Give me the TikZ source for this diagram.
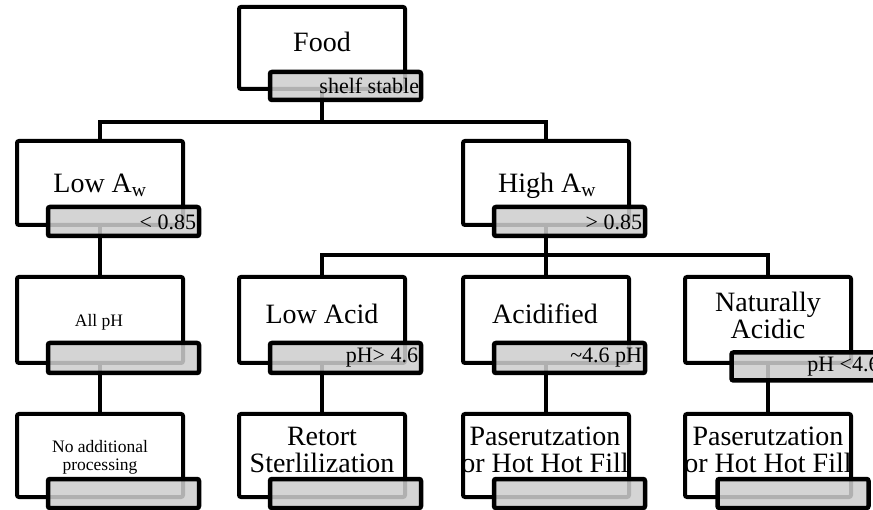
\documentclass[tikz,border=0pt]{standalone}
\usepackage{fontspec}
\setmainfont{Liberation Serif}
\definecolor{tagfill}{RGB}{205,205,205}
\tikzset{
  mainbox/.style={draw, line width=4pt, rounded corners=2pt, minimum width=166pt, fill=white, inner sep=0pt},
  tagbox/.style={draw, line width=4.5pt, rounded corners=2pt, minimum width=151pt, minimum height=29pt, fill=tagfill, fill opacity=0.86, inner sep=0pt},
  conn/.style={line width=4pt},
  bigtxt/.style={font=\fontsize{28}{27}\selectfont, align=center, inner sep=0pt},
  smalltxt/.style={font=\fontsize{17.5}{18}\selectfont, align=center, inner sep=0pt},
  tagtxt/.style={font=\fontsize{22}{24}\selectfont, inner sep=0pt, anchor=east},
}
\begin{document}
\begin{tikzpicture}[x=1pt, y=-1pt]
\path[use as bounding box] (0,0) rectangle (873,510);
\clip (0,0) rectangle (873,510);

% main boxes
\node[mainbox, minimum height=82pt] (food) at (322,48) {};
\node[mainbox, minimum height=84pt] (lowaw) at (100,183) {};
\node[mainbox, minimum height=84pt] (highaw) at (546,183) {};
\node[mainbox, minimum height=86pt] (allph) at (100,320) {};
\node[mainbox, minimum height=86pt] (lowacid) at (322,320) {};
\node[mainbox, minimum height=86pt] (acid) at (546,320) {};
\node[mainbox, minimum height=86pt] (natural) at (768,320) {};
\node[mainbox, minimum height=83pt] (noproc) at (100,455.5) {};
\node[mainbox, minimum height=83pt] (retort) at (322,455.5) {};
\node[mainbox, minimum height=83pt] (pastA) at (546,455.5) {};
\node[mainbox, minimum height=83pt] (pastN) at (768,455.5) {};

% labels
\node[bigtxt, anchor=base] (foodT) at (322,52) {Food};
\node[bigtxt, anchor=base] (lowawT) at (100,193) {Low A\textsubscript{w}};
\node[bigtxt, anchor=base] (highawT) at (547,193) {High A\textsubscript{w}};
\node[smalltxt, anchor=base] (allphT) at (99,327) {All pH};
\node[bigtxt, anchor=base] (lowacidT) at (322,324) {Low Acid};
\node[bigtxt, anchor=base] (acidT) at (545,324) {Acidified};
\node[bigtxt] (naturalT) at (768,315) {Naturally\\Acidic};
\node[smalltxt] (noprocT) at (100,457.5) {No additional\\processing};
\node[bigtxt] (retortT) at (322,449.5) {Retort\\Sterlilization};
\node[bigtxt] (pastAT) at (545,449.5) {Paserutzation\\or Hot Hot Fill};
\node[bigtxt] (pastNT) at (768,449.5) {Paserutzation\\or Hot Hot Fill};

% connectors
\coordinate (bus1) at (322,122);
\coordinate (bus2) at (546,255);
\draw[conn] (food.south) -- (bus1) -| (lowaw.north);
\draw[conn] (bus1) -| (highaw.north);
\draw[conn] (lowaw.south) -- (allph.north);
\draw[conn] (highaw.south) -- (bus2) -| (lowacid.north);
\draw[conn] (bus2) -| (natural.north);
\draw[conn] (bus2) -- (acid.north);
\draw[conn] (allph.south) -- (noproc.north);
\draw[conn] (lowacid.south) -- (retort.north);
\draw[conn] (acid.south) -- (pastA.north);
\draw[conn] (natural.south) -- (pastN.north);

% tags
\node[tagbox, minimum height=28pt] (foodtag) at (345.5,86) {};
\node[tagbox] (lowawtag) at (123.5,221.5) {};
\node[tagbox] (highawtag) at (569.5,221.5) {};
\node[tagbox, minimum height=30pt] (allphtag) at (123.5,358) {};
\node[tagbox, minimum height=30pt] (lowacidtag) at (345.5,358) {};
\node[tagbox, minimum height=30pt] (acidtag) at (569.5,358) {};
\node[tagbox, minimum height=28pt] (naturaltag) at (807,366.5) {};
\node[tagbox] (noproctag) at (123.5,493.5) {};
\node[tagbox] (retorttag) at (345.5,493.5) {};
\node[tagbox] (pastAtag) at (569.5,493.5) {};
\node[tagbox] (pastNtag) at (793,493.5) {};

% tag texts
\node[tagtxt] (foodtagT) at ([xshift=-4pt]foodtag.east) {shelf stable};
\node[tagtxt] (lowawtagT) at ([xshift=-5pt,yshift=-1pt]lowawtag.east) {< 0.85};
\node[tagtxt] (highawtagT) at ([xshift=-5pt,yshift=-1pt]highawtag.east) {> 0.85};
\node[tagtxt] (lowacidtagT) at ([xshift=-5pt]lowacidtag.east) {pH> 4.6};
\node[tagtxt] (acidtagT) at ([xshift=-5pt]acidtag.east) {{\char"007E}4.6 pH};
\node[tagtxt] (naturaltagT) at ([xshift=-5pt]naturaltag.east) {pH <4.6};
\end{tikzpicture}
\end{document}
